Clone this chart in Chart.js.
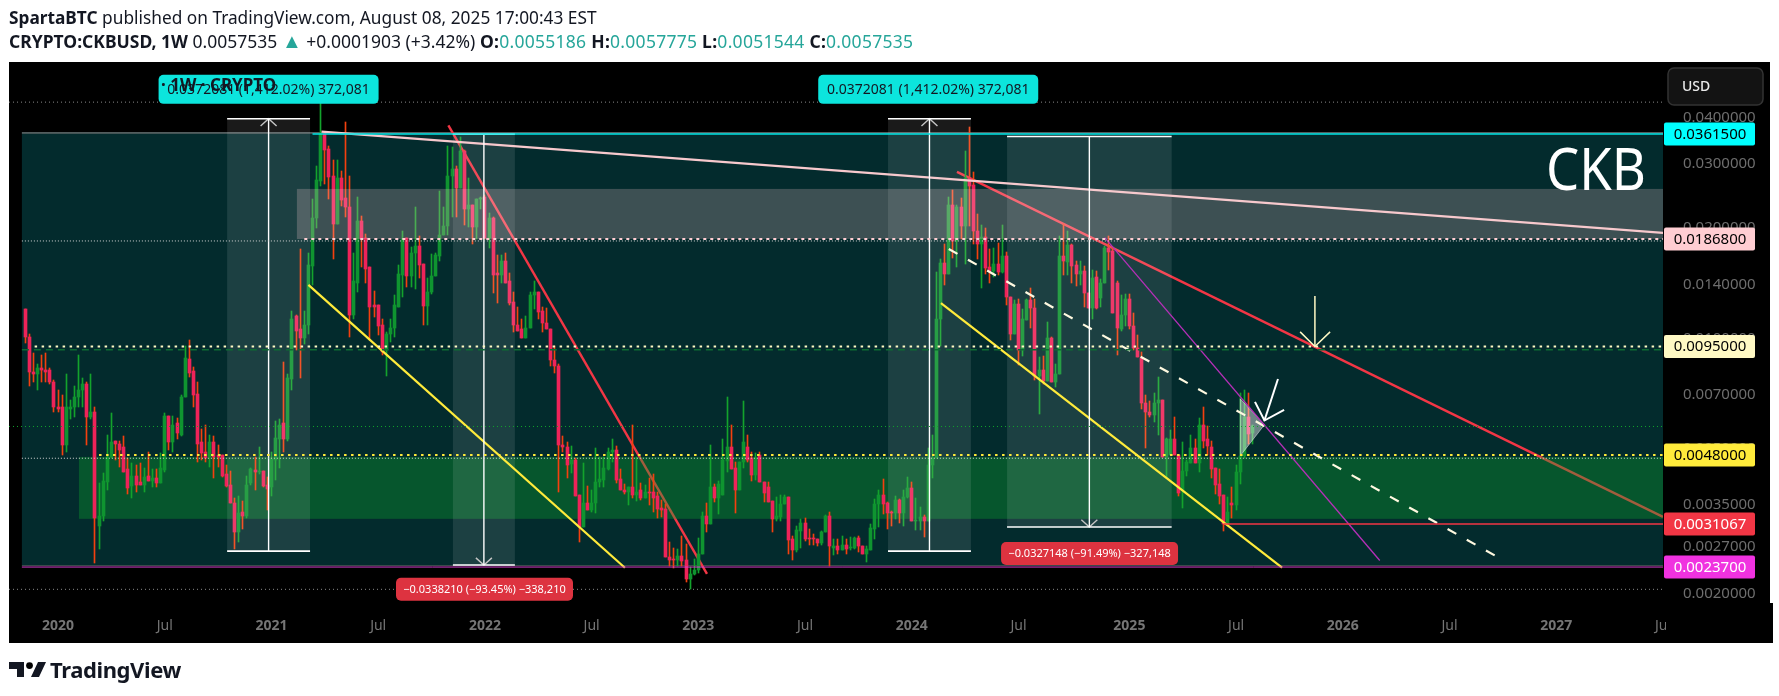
<!DOCTYPE html>
<html><head><meta charset="utf-8">
<title>CRYPTO:CKBUSD 1W</title>
<script src="https://cdn.jsdelivr.net/npm/chart.js@4"></script>
<style>
html,body{margin:0;padding:0;background:#fff;width:1779px;height:696px;overflow:hidden}
canvas{position:absolute;left:0;top:0}
.hd{position:absolute;left:9px;font-family:'Noto Sans',sans-serif;color:#131722;white-space:pre;line-height:22px}
.hd b{font-weight:700}.hd i{font-style:normal;color:#26a69a}
.hd u{text-decoration:none;color:#26a69a;font-size:20px;line-height:18px}
.hd span{letter-spacing:.27px}
#logo{position:absolute;left:9px;top:654px;display:flex;align-items:center;color:#131722;font:700 22px 'Noto Sans',sans-serif;letter-spacing:-.4px}
</style></head><body>
<canvas id="c" width="1779" height="696"></canvas>
<div class="hd" style="top:7px;font-size:17.3px"><b>SpartaBTC</b> published on TradingView.com, August 08, 2025 17:00:43 EST</div>
<div class="hd" style="top:30px;font-size:17.5px"><b>CRYPTO:CKBUSD, 1W</b> 0.0057535 <u>▲</u> +0.0001903 (+3.42%) <span><b>O:</b><i>0.0055186</i> <b>H:</b><i>0.0057775</i> <b>L:</b><i>0.0051544</i> <b>C:</b><i>0.0057535</i></span></div>
<div id="logo"><svg width="38" height="20" viewBox="0 0 38 20" style="margin-right:3px"><path fill="#131722" d="M0 3h15v15H8V10H0z"/><circle cx="20.5" cy="6.6" r="3.4"/><path fill="#131722" d="M29 3h8l-7 15h-8z"/></svg>TradingView</div>
<script>
// Weekly candles, in units of 0.00001 USD (Nov 2019 .. Aug 2025)
const PRICE_UNIT = 0.00001;
const opensRaw = [1200,1010,810,800,830,820,820,760,650,650,510,640,650,690,720,750,610,630,307,327,405,475,525,515,505,440,395,420,405,398,420,408,416,402,437,612,520,585,545,690,880,815,705,520,490,475,520,480,480,425,398,355,295,335,326,403,437,430,433,398,391,465,530,585,530,775,
1150,1060,1000,1085,1580,2130,2690,3650,3290,2780,2050,2740,2420,2280,1160,1420,2090,1880,1570,1230,1230,1090,930,1030,1065,1220,1490,1880,1480,1710,1785,1600,1225,1340,1480,1680,1910,2030,2780,2910,2580,3240,2260,2320,2010,2400,2440,1880,2130,1500,1490,1630,1430,1260,1090,1060,1000,1070,1310,1340,1190,1100,1060,870,840,
512,505,452,465,372,305,355,340,355,405,410,440,490,495,412,386,381,391,372,384,367,381,379,370,344,342,253,248,247,254,247,220,227,232,258,326,310,393,367,372,462,505,443,384,458,505,470,423,480,405,391,358,321,325,352,368,
283,263,298,313,283,283,283,275,295,327,268,270,263,272,267,267,285,270,257,263,302,352,372,355,334,333,362,333,368,390,316,316,325,317,450,470,
1130,1610,1500,2320,1850,2290,2030,2750,2620,1970,1810,1890,1570,1530,1600,1520,1680,1300,1030,1240,930,1120,1270,1210,790,820,765,1000,760,800,1680,1620,1800,1590,1500,1530,1330,1210,1470,1290,1420,1760,1730,1420,1060,1160,1280,1080,940,885,665,630,617,665,680,475,480,530,480,382,433,455,500,455,580,530,505,442,400,373,310,355,350,430,478,610,552];
const highsRaw = [1200,1030,910,850,900,910,830,770,720,700,800,680,740,900,780,760,800,650,403,428,545,625,525,525,540,470,455,450,455,443,490,440,440,487,625,612,612,605,700,950,990,835,760,565,580,545,540,510,480,450,433,365,370,358,420,443,475,505,433,417,490,595,600,860,800,1190,
1160,1750,1190,1710,2400,2960,4400,3650,3350,3070,3080,2870,3900,2780,1710,2440,2160,1930,1570,1350,1230,1130,1040,1130,1310,1590,1960,1880,1780,2280,1900,1600,1460,1695,1710,2520,2280,3360,3330,2960,3560,3280,2740,2320,2400,2440,2460,2200,2150,1690,1690,1710,1510,1340,1220,1130,1150,1340,1430,1340,1220,1210,1060,950,850,
540,520,508,470,372,455,395,385,500,475,475,500,530,508,440,400,391,580,475,403,398,416,425,381,362,352,278,268,266,288,274,237,249,284,336,355,510,400,408,530,690,580,460,460,675,545,490,485,490,405,405,358,368,372,372,368,
288,307,320,322,302,292,283,298,328,335,283,282,288,283,286,286,288,270,270,310,363,386,413,357,338,370,363,386,418,405,366,345,328,500,545,1515,
1650,1810,2430,2550,2310,2420,3250,3770,2850,2190,2040,2000,1750,1770,1820,2040,1720,1300,1270,1280,1200,1280,1370,1280,890,895,1110,1010,850,1900,2050,1960,1810,1630,1630,1580,1330,1540,1530,1450,1790,1900,1780,1430,1310,1320,1320,1170,1020,920,700,675,710,785,680,535,560,610,480,520,465,545,530,605,650,575,525,442,440,373,368,391,450,710,720,710,578];
const lowsRaw = [970,740,760,720,760,760,750,630,630,480,490,600,610,650,650,510,600,243,265,316,386,470,465,445,430,375,367,380,398,380,408,391,393,402,430,495,490,530,540,690,785,650,460,465,460,445,415,445,418,391,355,265,278,302,322,398,386,425,391,340,370,411,443,490,523,720,
930,780,965,1025,1400,2000,2600,2640,2400,1650,2050,2300,2150,1010,1130,1340,1570,1420,990,1140,1020,900,790,975,1010,1220,1300,1380,1380,1360,1460,1090,1085,1320,1480,1630,1910,1910,2150,2150,2580,2040,2010,1810,1870,2250,1870,1770,1330,1250,1420,1420,1230,1040,1050,1000,1000,1070,1200,1130,1040,1060,840,805,380,
490,415,428,370,278,304,340,335,333,393,391,437,460,402,384,375,350,365,360,362,367,350,335,322,324,252,238,235,238,238,216,206,225,228,258,295,310,357,330,372,432,440,333,384,443,458,408,411,405,357,356,295,316,316,352,257,
247,260,268,280,272,273,270,272,295,238,255,257,263,258,263,265,260,257,245,263,282,305,330,302,307,320,313,307,366,316,300,300,287,317,415,470,
950,1400,1500,1660,1570,1870,1600,2030,1810,1650,1370,1500,1420,1470,1490,1510,1230,990,1030,845,895,1120,1070,770,620,750,765,760,735,800,1490,1490,1420,1390,1400,1220,1210,1130,1200,1220,1420,1540,1170,900,1050,1080,1060,930,890,640,500,610,590,545,475,415,480,480,370,343,420,455,455,430,500,480,415,375,353,298,310,322,340,400,470,515,515];
const closesRaw = [1010,810,800,830,820,810,760,650,640,510,650,650,690,720,750,610,630,322,327,408,475,520,515,495,430,390,420,397,398,417,408,416,402,442,612,520,580,550,690,885,805,700,515,485,470,520,475,475,420,395,355,295,333,326,398,440,430,433,395,388,468,535,580,530,780,1130,
1050,1000,1090,1590,2130,2700,3640,3280,2760,2050,2740,2380,2280,1160,1430,2090,1870,1550,1220,1220,1080,920,1030,1070,1230,1500,1870,1480,1710,1785,1590,1225,1340,1480,1690,1920,2030,2780,2910,2580,3240,2260,2320,2010,2400,2420,1880,2130,1490,1490,1630,1420,1250,1090,1050,1000,1070,1310,1340,1180,1100,1060,870,840,510,
505,450,465,370,304,355,340,355,405,412,443,490,495,411,384,380,391,372,381,367,381,377,367,342,340,252,247,247,254,246,220,227,232,258,326,310,393,367,400,465,505,440,384,460,520,465,423,472,405,377,356,321,327,353,368,281,
263,300,313,282,282,282,275,295,327,270,270,263,272,265,268,285,270,257,265,303,352,372,353,333,333,362,333,368,390,316,317,325,317,450,470,1130,
1610,1500,2320,1850,2290,2030,2750,2600,1960,1810,1890,1560,1530,1600,1520,1680,1300,1030,1240,930,1130,1270,1210,790,820,765,1000,760,800,1680,1630,1800,1580,1500,1530,1330,1210,1460,1210,1420,1760,1720,1170,1070,1160,1280,1080,940,890,665,630,617,665,680,475,530,530,480,378,435,460,500,455,580,525,507,440,398,370,310,335,350,430,478,610,548,575];
const fromUnits = v => +(v * PRICE_UNIT).toFixed(5);
const opens = opensRaw.map(fromUnits), highs = highsRaw.map(fromUnits), lows = lowsRaw.map(fromUnits), closes = closesRaw.map(fromUnits);
const FIRST_WEEK = -8; // weeks relative to the first bar of 2020

// Time axis
const tickWeeks  = [0,26,52,78,104,130,156,182,208,234,261,287,313,339,365,391];
const tickLabels = ['2020','Jul','2021','Jul','2022','Jul','2023','Jul','2024','Jul','2025','Jul','2026','Jul','2027','Jul'];
const weekMin = -11.94, weekMax = 391;
// Price axis
const priceTicks = [0.04,0.03,0.02,0.014,0.01,0.007,0.005,0.0035,0.0027,0.002];
const priceMax = 0.0569, priceMin = 0.00189;

// Levels with price tags
const tagPrices = [0.03615,0.01868,0.0095,0.0048,0.0031067,0.00237];
const tagTexts  = ['0.0361500','0.0186800','0.0095000','0.0048000','0.0031067','0.0023700'];
const tagFills  = ['#00ffff','#ffcdd2','#fff9c4','#ffeb3b','#f23645','#f032e0'];
const tagInks   = ['#000','#000','#000','#000','#fff','#fff'];

// Zones [week from, week to], [price low, price high]
const tealWeeks=[-8.8,392], tealPrices=[0.00239,0.0366];
const greenWeeks=[5.1,392], greenPrices=[0.00321,0.00474];
const roseWeeks=[58.2,392], rosePrices=[0.01868,0.0256];
const bandWeeks=[[41.2,61.4],[96.2,111.3],[202.2,222.4],[231.2,271.3]];
const bandPrices=[[0.00262,0.0398],[0.0024,0.03615],[0.00262,0.0398],[0.00305,0.0356]];
const bandDirection=[1,-1,1,-1];
const triangleWeeks=[288,293.9,288], trianglePrices=[0.00683,0.0058,0.00477];

// Trend lines
const redFallWeeks=[95.1,158.1], redFallPrices=[0.0382,0.00227];
const redNowWeeks=[219,391], redNowPrices=[0.0285,0.00325];
const pinkWeeks=[64.2,391], pinkPrices=[0.0367,0.0194];
const yellowAWeeks=[61,138.1], yellowAPrices=[0.014,0.00236];
const yellowBWeeks=[215.1,298.2], yellowBPrices=[0.01247,0.00236];
const dashWeeks=[217,350], dashPrices=[0.01754,0.00255];
const magentaWeeks=[255,322], magentaPrices=[0.01884,0.00247];
// Call-out arrows
const arrowAWeeks=[306.2,306.2], arrowAPrices=[0.01305,0.0095];
const arrowAHeadWeeks=[302.6,306.2,309.9], arrowAHeadPrices=[0.01041,0.0095,0.01041];
const arrowBWeeks=[297.2,293.9], arrowBPrices=[0.00774,0.00596];
const arrowBHeadWeeks=[291.6,293.9,298.7], arrowBHeadPrices=[0.0067,0.00596,0.00637];

const RED='#ee2359', REDW='#f3400f', GREEN='#0f9430', GREENW='#13a32c';
const isUp = i => closes[i] >= opens[i];
const wicks = opens.map((_,i)=>({x:FIRST_WEEK+i,y:[lows[i],highs[i]]}));
const bodies = opens.map((o,i)=>({x:FIRST_WEEK+i,y:[Math.min(o,closes[i]),Math.max(o,closes[i])]}));

const lineSets=[];
function addLine(xs,ps,color,width,dash,order){
  lineSets.push({type:'line',data:xs.map((x,i)=>({x,y:ps[i]})),borderColor:color,borderWidth:width,borderDash:dash||[],pointRadius:0,fill:false,tension:0,borderCapStyle:'butt',order:order||10});
}
// Under the green zone
addLine(redFallWeeks,redFallPrices,'#f23645',2.4,null,300);
addLine(redNowWeeks,redNowPrices,'#f23645',2.4,null,301);
// Levels
const edge=[-11.94,392], teal=[-8.8,392];
addLine(edge,[0.0442,0.0442],'#8a8a8a',1,[1,3]);
addLine(edge,[0.00206,0.00206],'#8a8a8a',1,[1,3]);
addLine(edge,[0.00574,0.00574],'#12a32c',1,[1,3]);
addLine(teal,[0.0093,0.0093],'#0e6a33',1.5,[7,5]);
addLine(teal,[0.01845,0.01845],'#d8d8d8',1,[1,2]);
addLine(teal,[0.0047,0.0047],'#d8d8d8',1,[1,2]);
addLine([62,392],[0.03615,0.03615],'#00e5e5',1.5);
addLine([60,392],[0.01868,0.01868],'#ffcdd2',2,[3,4]);
addLine([-5.7,392],[0.0095,0.0095],'#fff9c4',2,[2.5,4.5]);
addLine([10,392],[0.0048,0.0048],'#ffeb3b',2,[2.5,4.5]);
addLine([284,392],[0.0031067,0.0031067],'#f23645',1.5);
addLine(teal,[0.00237,0.00237],'#d640d0',1);
// Measures
bandWeeks.forEach((w,k)=>{
  const mid=(w[0]+w[1])/2, [lo,hi]=bandPrices[k];
  addLine([mid,mid],[lo,hi],'#ffffff',1.4);
  addLine(w,[hi,hi],'#ffffff',1.6);
  addLine(w,[lo,lo],'#ffffff',1.6);
  const tip=bandDirection[k]>0?hi:lo, arm=bandDirection[k]>0?hi*0.956:lo*1.046;
  addLine([mid-1.95,mid,mid+1.95],[arm,tip,arm],'#c4c4c4',1.4);
});
addLine(pinkWeeks,pinkPrices,'#f7c9cd',2.2);
addLine(yellowAWeeks,yellowAPrices,'#ffeb3b',2.2);
addLine(yellowBWeeks,yellowBPrices,'#ffeb3b',2.2);
addLine(magentaWeeks,magentaPrices,'#b62fb8',1.3);
addLine(dashWeeks,dashPrices,'#fff9e0',2.2,[10,12]);
addLine(arrowAWeeks,arrowAPrices,'#fff9c4',1.5);
addLine(arrowAHeadWeeks,arrowAHeadPrices,'#fff9c4',1.5);
addLine(arrowBWeeks,arrowBPrices,'#ffffff',2);
addLine(arrowBHeadWeeks,arrowBHeadPrices,'#ffffff',2);

const FONT="'Noto Sans',sans-serif";
function zone(c,ws,ps,fill){
  const x=c.scales.x,y=c.scales.y,a=c.chartArea;
  const l=Math.max(a.left,x.getPixelForValue(ws[0])),r=Math.min(a.right,x.getPixelForValue(ws[1]));
  const t=y.getPixelForValue(ps[1]),b=y.getPixelForValue(ps[0]);
  c.ctx.fillStyle=fill;c.ctx.fillRect(l,t,r-l,b-t);
}
function rr(ctx,x,y,w,h,r,fill,stroke){
  ctx.beginPath();ctx.roundRect(x,y,w,h,r);ctx.fillStyle=fill;ctx.fill();
  if(stroke){ctx.strokeStyle=stroke;ctx.lineWidth=1.5;ctx.stroke();}
}
const stage={id:'stage',
  beforeDraw(c){const g=c.ctx;g.save();g.fillStyle='#fff';g.fillRect(0,0,1779,696);g.fillStyle='#000';g.fillRect(9,62,1761,581);g.restore();},
  beforeDatasetsDraw(c){
    const g=c.ctx;g.save();
    zone(c,tealWeeks,tealPrices,'#032b2d');
    zone(c,tealWeeks,[tealPrices[1]*0.99,tealPrices[1]],'#5e6566');
    zone(c,tealWeeks,[tealPrices[0],tealPrices[0]*1.004],'#5e6566');
    g.restore();
    // keep candles on whole device pixels, so thin wicks stay crisp
    [0,1].forEach(i=>c.getDatasetMeta(i).data.forEach(el=>{
      el.x=Math.floor(el.x)+0.5;el.y=Math.round(el.y);el.base=Math.round(el.base);
      if(el.base===el.y)el.base=el.y+1;
    }));
  },
  afterDatasetDraw(c,args){
    const d=c.data.datasets[args.index],g=c.ctx;
    if(d.order===300){g.save();zone(c,greenWeeks,greenPrices,'rgba(14,166,45,.35)');g.restore();}
    if(d.order===150){
      g.save();
      zone(c,roseWeeks,rosePrices,'rgba(255,205,210,.23)');
      bandWeeks.forEach((w,k)=>zone(c,w,bandPrices[k],'rgba(255,255,255,.1)'));
      const x=c.scales.x,y=c.scales.y;
      g.beginPath();
      triangleWeeks.forEach((t,i)=>g[i?'lineTo':'moveTo'](x.getPixelForValue(t),y.getPixelForValue(trianglePrices[i])));
      g.closePath();g.fillStyle='rgba(255,255,255,.42)';g.fill();
      g.strokeStyle='rgba(255,255,255,.45)';g.lineWidth=1;g.stroke();
      g.restore();
    }
  },
  afterDraw(c){
    const g=c.ctx,x=c.scales.x,y=c.scales.y,a=c.chartArea;
    g.save();
    // clip the last time label at the pane edge
    g.fillStyle='#000';g.fillRect(a.right+3,a.bottom,107,40);
    // CKB
    g.fillStyle='#fff';g.font="58px "+FONT;g.textAlign='left';g.textBaseline='alphabetic';
    g.fillText('CKB',1546,190,100);
    // badges
    const badge=(wk,p,w,fill,ink,txt,size)=>{
      const cx=x.getPixelForValue(wk),cy=y.getPixelForValue(p);
      rr(g,cx-w/2,cy-14.5,w,29,5,fill);
      g.fillStyle=ink;g.font=size+'px '+FONT;g.textAlign='center';g.textBaseline='middle';g.fillText(txt,cx,cy+1);
    };
    badge(51.3,0.0479,220,'#0ce5dd','#131722','0.0372081 (1,412.02%) 372,081',14);
    badge(212,0.0479,220,'#0ce5dd','#131722','0.0372081 (1,412.02%) 372,081',14);
    const small=(wk,p,w,txt)=>{
      const cx=x.getPixelForValue(wk),cy=y.getPixelForValue(p);
      rr(g,cx-w/2,cy-11.5,w,23,5,'#dd3340');
      g.fillStyle='#fff';g.font='11px '+FONT;g.textAlign='center';g.textBaseline='middle';g.fillText(txt,cx,cy+.5);
    };
    small(103.9,0.00206,177,'\u22120.0338210 (\u221293.45%) \u2212338,210');
    small(251.3,0.00258,177,'\u22120.0327148 (\u221291.49%) \u2212327,148');
    // watermark text over the first badge
    g.fillStyle='#131722';g.font='700 17px '+FONT;g.textAlign='left';g.textBaseline='middle';
    g.fillText('\u00b7 1W \u00b7 CRYPTO',161,86);
    // price tags
    tagPrices.forEach((p,i)=>{
      const cy=y.getPixelForValue(p);
      rr(g,1664,cy-11.5,91,23,2,tagFills[i]);
      g.fillStyle=tagInks[i];g.font='15px '+FONT;g.textAlign='center';g.textBaseline='middle';
      g.fillText(tagTexts[i],1710,cy+.5);
    });
    // currency
    rr(g,1668,68,95,37,6,'#131313','#333');
    g.fillStyle='#e8e8e8';g.font='500 14px '+FONT;g.textAlign='left';g.textBaseline='middle';g.fillText('USD',1682,87);
    g.restore();
  }
};

new Chart(document.getElementById('c'),{
  type:'bar',
  data:{datasets:[
    {type:'bar',data:wicks,grouped:false,barThickness:1,backgroundColor:wicks.map((_,i)=>isUp(i)?GREENW:REDW),borderWidth:0,borderSkipped:false,order:200},
    {type:'bar',data:bodies,grouped:false,barThickness:3,minBarLength:1.5,backgroundColor:bodies.map((_,i)=>isUp(i)?GREEN:RED),borderWidth:0,borderSkipped:false,order:150},
    ...lineSets
  ]},
  options:{
    responsive:false,animation:false,devicePixelRatio:1,
    layout:{padding:{left:9,top:62,right:9,bottom:53}},
    plugins:{legend:{display:false},tooltip:{enabled:false},title:{display:false}},
    events:[],
    scales:{
      x:{type:'linear',min:weekMin,max:weekMax,offset:false,
        grid:{display:false},border:{display:false},
        afterFit(s){s.height=40;},
        afterBuildTicks(s){s.ticks=tickWeeks.map(value=>({value}));},
        ticks:{autoSkip:false,maxRotation:0,minRotation:0,padding:7,color:'#757575',
          callback(v){return tickLabels[tickWeeks.indexOf(v)];},
          font(ctx){const l=tickLabels[tickWeeks.indexOf(ctx.tick?ctx.tick.value:0)];return {family:"'Noto Sans'",size:14,weight:l==='Jul'?'400':'700'};}}},
      y:{type:'logarithmic',position:'right',min:priceMin,max:priceMax,
        grid:{display:false},border:{display:false},
        afterFit(s){s.width=107;},
        afterBuildTicks(s){s.ticks=priceTicks.map(value=>({value}));},
        ticks:{autoSkip:false,padding:12,color:'#6e6e6e',font:{family:"'Noto Sans'",size:15},
          callback(v){return v.toFixed(7);}}}
    }
  },
  plugins:[stage]
});
</script>
</body></html>
